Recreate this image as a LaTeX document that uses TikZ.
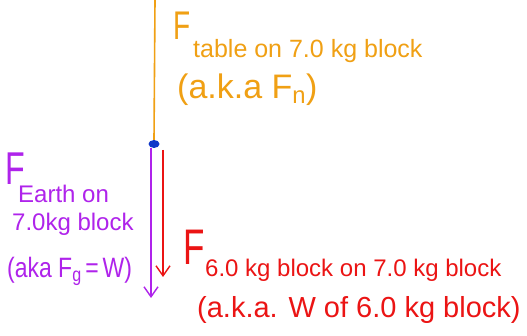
\documentclass[tikz,border=0pt]{standalone}
\usepackage{fontspec}
\setmainfont{Liberation Sans}
\usetikzlibrary{arrows.meta,shapes.geometric}
\definecolor{forange}{RGB}{240,160,20}
\definecolor{fpurple}{RGB}{175,35,235}
\definecolor{fred}{RGB}{235,20,20}
\definecolor{fblue}{RGB}{15,55,200}
\newcommand{\narrowF}{\scalebox{0.7}[1]{F}}
\tikzset{
  force/.style={line width=1.6pt, -{Straight Barb[length=10pt,width=14pt,line width=1.4pt]}},
  lbl/.style={anchor=base west, inner sep=0pt},
}
\begin{document}
\begin{tikzpicture}[x=1pt,y=-1pt]
\useasboundingbox (0,0) rectangle (527,336);
\fill[white] (0,0) rectangle (527,336);
% orange force (table)
\coordinate (otop) at (155,0);
\node[ellipse, fill=fblue, minimum width=11pt, minimum height=8pt, inner sep=0pt] (dot) at (154,144) {};
\draw[forange, line width=1.6pt] (otop) -- (dot.north);
\coordinate (ps) at (151,148);
\coordinate (pe) at (151,298);
\draw[force, fpurple] (ps) -- (pe);
\coordinate (rs) at (163,150);
\coordinate (re) at (163,277);
\draw[force, fred] (rs) -- (re);
% orange labels
\node[lbl, text=forange, font=\fontsize{40}{40}\selectfont] (oF) at (173,40) {\narrowF};
\node[lbl, text=forange, font=\fontsize{25}{25}\selectfont] (o1) at (193,58) {table on 7.0 kg block};
\node[lbl, text=forange, font=\fontsize{34}{34}\selectfont] (o2) at (177,99) {(a.k.a F\textsubscript{n})};
% purple labels
\node[lbl, text=fpurple, font=\fontsize{46}{46}\selectfont] (pF) at (5,185) {\narrowF};
\node[lbl, text=fpurple, font=\fontsize{24}{24}\selectfont] (p1) at (18,203) {Earth on};
\node[lbl, text=fpurple, font=\fontsize{24}{24}\selectfont] (p2) at (12,231) {7.0kg block};
\node[lbl, text=fpurple, font=\fontsize{28}{28}\selectfont] (p3) at (7,278) {\scalebox{0.82}[1]{(aka F\textsubscript{g}\,=\,W)}};
% red labels
\node[lbl, text=fred, font=\fontsize{50}{50}\selectfont] (rF) at (183,265) {\narrowF};
\node[lbl, text=fred, font=\fontsize{24}{24}\selectfont] (r1) at (205,277) {6.0 kg block on 7.0 kg block};
\node[lbl, text=fred, font=\fontsize{29}{29}\selectfont] (r2) at (197,318) {(a.k.a. W of 6.0 kg block)};
\end{tikzpicture}
\end{document}
